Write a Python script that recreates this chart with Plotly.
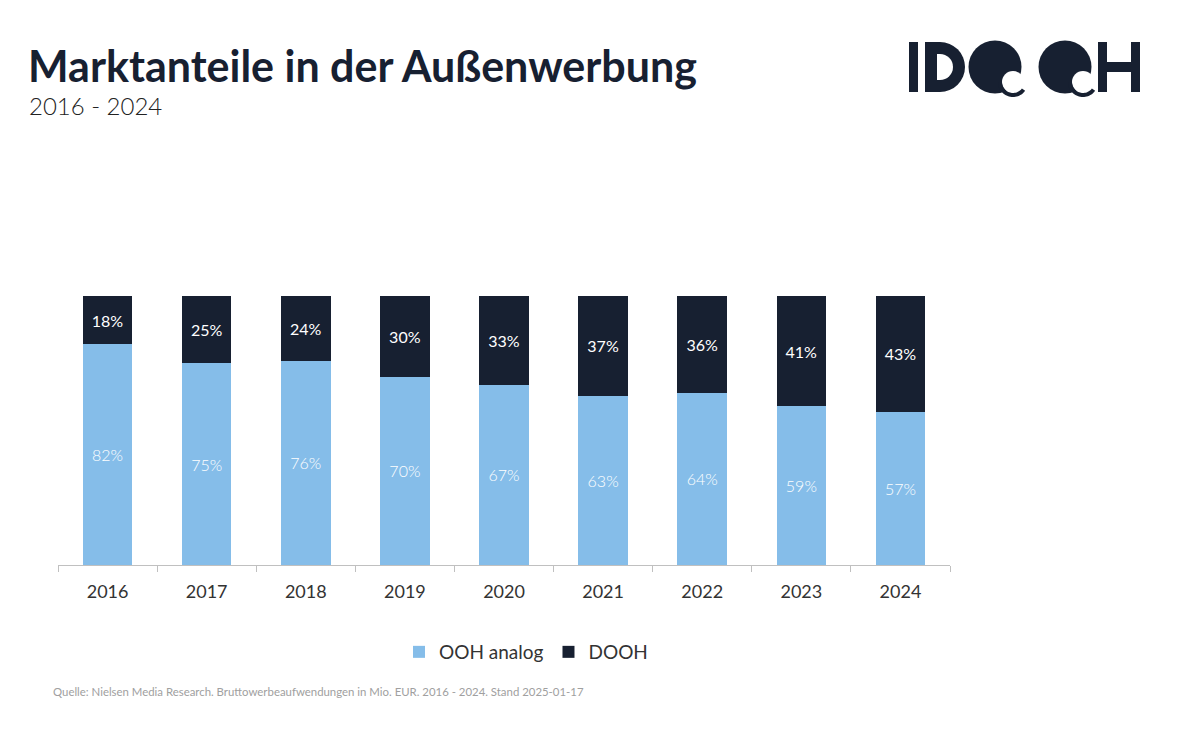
import numpy as np
import plotly.graph_objects as go

years = ["2016", "2017", "2018", "2019", "2020", "2021", "2022", "2023", "2024"]
ooh_analog = [82, 75, 76, 70, 67, 63, 64, 59, 57]
dooh = [18, 25, 24, 30, 33, 37, 36, 41, 43]

LIGHT = "#85BDE9"
DARK = "#172031"

# plot area in pixels
L, R, T, B = 58, 950, 296, 565
W, H = 1200, 750

def px(x):
    return (x - L) / (R - L)

def py(y):
    return (B - y) / (B - T)

fig = go.Figure()
fig.add_trace(go.Bar(
    x=years, y=ooh_analog, name="OOH analog", marker=dict(color=LIGHT, line=dict(width=0)),
    width=0.5, text=[f"{v}%" for v in ooh_analog], textposition="inside",
    insidetextanchor="middle", textangle=0,
    textfont=dict(color="white", size=16, family="Lato", weight=300),
    hoverinfo="skip"))
fig.add_trace(go.Bar(
    x=years, y=dooh, name="DOOH", marker=dict(color=DARK, line=dict(width=0)),
    width=0.5, text=[f"{v}%" for v in dooh], textposition="inside",
    insidetextanchor="middle", textangle=0,
    textfont=dict(color="white", size=16, family="Lato", weight=400),
    hoverinfo="skip"))

shapes = []
def rect(x0, y0, x1, y1, color=DARK):
    shapes.append(dict(type="rect", xref="paper", yref="paper",
                       x0=px(x0), x1=px(x1), y0=py(y1), y1=py(y0),
                       fillcolor=color, line=dict(width=0), layer="above"))

def circ(cx, cy, r, color=DARK):
    shapes.append(dict(type="circle", xref="paper", yref="paper",
                       x0=px(cx - r), x1=px(cx + r), y0=py(cy + r), y1=py(cy - r),
                       fillcolor=color, line=dict(width=0), layer="above"))

def poly(pts, color=DARK):
    path = "M" + " L".join(f"{px(x):.5f},{py(y):.5f}" for x, y in pts) + " Z"
    shapes.append(dict(type="path", xref="paper", yref="paper", path=path,
                       fillcolor=color, line=dict(width=0), layer="above"))

# Logo "IDOOH"
# D
circ(940, 67, 25)
circ(940, 67, 13, "white")
rect(900, 40, 925, 94, "white")
rect(925, 42, 940, 92)
rect(937, 54, 940, 80, "white")
rect(925, 42, 937, 92)
# I
rect(909, 42, 918, 92)
# O's with a wave-like bite
for cx in (995, 1065):
    circ(cx, 67, 26.5)
    bx, by, br = cx + 18, 82, 11
    circ(bx, by, br, "white")
    # dark tail curling under the bite
    ang = np.linspace(np.pi * 1.0, np.pi * 0.2, 30)
    outer = [(bx + (br + 4) * np.cos(a), by + (br + 4) * np.sin(a)) for a in ang]
    inner = [(bx + br * np.cos(a), by + br * np.sin(a)) for a in ang[::-1]]
    poly(outer + inner)
# H
rect(1098, 42, 1107, 92)
rect(1131, 42, 1140, 92)
rect(1098, 62, 1140, 72)

annotations = [
    dict(text="<b>Marktanteile in der Außenwerbung</b>", x=px(26), y=py(66),
         xref="paper", yref="paper", xanchor="left", yanchor="middle", showarrow=False,
         font=dict(family="Lato", size=43, color=DARK)),
    dict(text="2016 - 2024", x=px(27), y=py(105), xref="paper", yref="paper",
         xanchor="left", yanchor="middle", showarrow=False,
         font=dict(family="Lato", size=24, color="#222222", weight=300)),
    dict(text="Quelle: Nielsen Media Research. Bruttowerbeaufwendungen in Mio. EUR. 2016 - 2024. Stand 2025-01-17",
         x=px(51), y=py(691), xref="paper", yref="paper", xanchor="left", yanchor="middle",
         showarrow=False, font=dict(family="Lato", size=11.4, color="#a0a0a0")),
]

fig.update_layout(
    width=W, height=H, barmode="stack",
    margin=dict(l=L, r=W - R, t=T, b=H - B, pad=0),
    paper_bgcolor="white", plot_bgcolor="white",
    font=dict(family="Lato", color="#333333"),
    showlegend=True,
    legend=dict(orientation="h", x=px(526), xanchor="center", y=py(652), yanchor="middle",
                font=dict(size=19, color="#333333", family="Lato"), traceorder="normal",
                itemwidth=30),
    xaxis=dict(showline=True, linecolor="#c0c0c0", linewidth=1, ticks="outside",
               tickson="boundaries", ticklen=6, tickcolor="#c0c0c0",
               ticklabelstandoff=10,
               tickfont=dict(size=18, color="#333333", family="Lato"),
               showgrid=False, zeroline=False, fixedrange=True),
    yaxis=dict(range=[0, 100], visible=False, showgrid=False, fixedrange=True),
    shapes=shapes, annotations=annotations,
    uniformtext=dict(mode=False),
)

fig.write_html("out.html", config={"displayModeBar": False})
